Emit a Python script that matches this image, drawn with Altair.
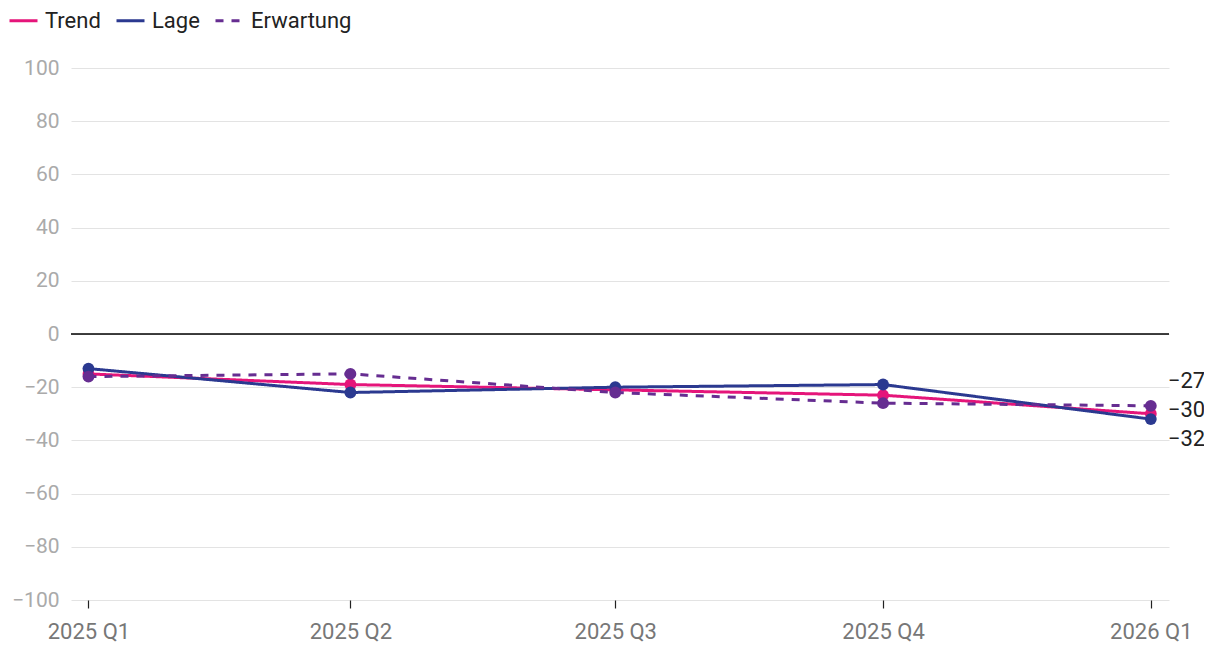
import altair as alt
import pandas as pd

quarters = ["2025-01-01", "2025-04-01", "2025-07-01", "2025-10-01", "2026-01-01"]
series_names = ["Trend", "Lage", "Erwartung"]
trend = [-15, -19, -21, -23, -30]
lage = [-13, -22, -20, -19, -32]
erwartung = [-16, -15, -22, -26, -27]
colors = ["#e5157a", "#2b3990", "#662d91"]
dashes = [[1, 0], [1, 0], [8, 8]]

rows = []
for name, vals in zip(series_names, [trend, lage, erwartung]):
    for q, v in zip(quarters, vals):
        rows.append({"date": q, "series": name, "value": v})
df = pd.DataFrame(rows)

last = pd.DataFrame({
    "date": [quarters[-1]] * 3,
    "series": series_names,
    "value": [trend[-1], lage[-1], erwartung[-1]],
})
last["label"] = last["value"].map(lambda v: ("\u2212" if v < 0 else "") + str(abs(v)))

font = "Roboto"

x_enc = alt.X(
    "date:T",
    scale=alt.Scale(
        type="utc",
        nice=False,
        domain=[alt.DateTime(year=2024, month=12, date=26, hours=0, utc=True),
                alt.DateTime(year=2026, month=1, date=7, hours=6, utc=True)],
    ),
    axis=alt.Axis(
        title=None,
        values=[alt.DateTime(year=int(q[:4]), month=int(q[5:7]), date=1, utc=True) for q in quarters],
        labelExpr="utcyear(datum.value) + ' Q' + utcquarter(datum.value)",
        grid=False,
        domain=False,
        ticks=True,
        tickColor="#222222",
        tickSize=8,
        tickWidth=1.2,
        labelColor="#777777",
        labelFontSize=22,
        labelFont=font,
        labelPadding=13,
    ),
)

y_scale = alt.Scale(domain=[-100, 100])
y_enc = alt.Y(
    "value:Q",
    scale=y_scale,
    axis=alt.Axis(
        title=None,
        values=list(range(-100, 101, 20)),
        grid=True,
        gridColor="#e3e3e3",
        gridWidth=1,
        domain=False,
        ticks=False,
        labelColor="#aaaaaa",
        labelFontSize=21,
        labelFont=font,
        labelPadding=12,
    ),
)

legend_opts = dict(
    title=None,
    orient="none",
    legendX=-63,
    legendY=-63,
    direction="horizontal",
    symbolType="stroke",
    symbolStrokeWidth=3,
    symbolSize=784,
    labelFontSize=22,
    labelFont=font,
    labelColor="#222222",
    columnPadding=9,
    labelOffset=6,
)

color_enc = alt.Color(
    "series:N",
    scale=alt.Scale(domain=series_names, range=colors),
    legend=alt.Legend(**legend_opts),
)
dash_enc = alt.StrokeDash(
    "series:N",
    scale=alt.Scale(domain=series_names, range=dashes),
    legend=alt.Legend(**legend_opts),
)

base = alt.Chart(df)

zero = alt.Chart(pd.DataFrame({"value": [0]})).mark_rule(color="#000000", strokeWidth=1.5).encode(
    y=alt.Y("value:Q", scale=y_scale)
)

lines = base.mark_line(strokeWidth=3).encode(
    x=x_enc, y=y_enc, color=color_enc, strokeDash=dash_enc,
    order=alt.Order("date:T"),
)
points = base.mark_circle(size=140, opacity=1).encode(
    x=alt.X("date:T"), y=alt.Y("value:Q"),
    color=alt.Color("series:N", scale=alt.Scale(domain=series_names, range=colors), legend=None),
)

label_offsets = {"Erwartung": -25, "Trend": -4, "Lage": 20}
texts = []
for name in series_names:
    texts.append(
        alt.Chart(last[last["series"] == name]).mark_text(
            align="left", baseline="middle", dx=17, dy=label_offsets[name],
            fontSize=22, font=font, color="#222222",
        ).encode(x=alt.X("date:T"), y=alt.Y("value:Q"), text="label:N")
    )

chart = alt.layer(zero, lines, points, *texts).resolve_scale(
    strokeDash="shared", color="shared"
).properties(
    width=1098,
    height=532,
    padding={"left": 63, "top": 60, "right": 35, "bottom": 50},
    autosize=alt.AutoSizeParams(type="none"),
).configure(
    background="#ffffff",
    view=alt.ViewConfig(strokeWidth=0, stroke="transparent"),
)

chart.save("out.html", embed_options={"renderer": "svg", "actions": False})
